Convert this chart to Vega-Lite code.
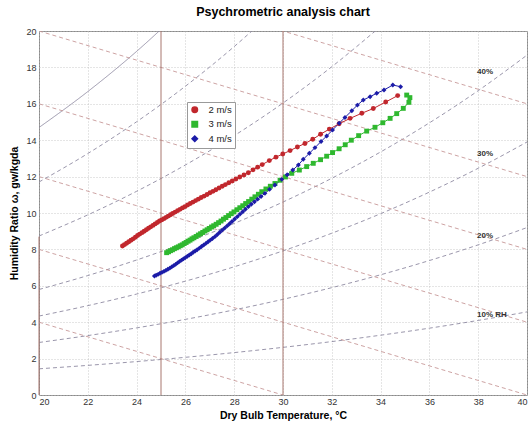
{
  "$schema": "https://vega.github.io/schema/vega-lite/v6.json",
  "width": 488,
  "height": 364,
  "autosize": {"type": "none"},
  "padding": {"left": 39, "top": 31, "right": 4, "bottom": 28},
  "config": {
    "font": "Liberation Sans",
    "view": {"stroke": "#8a8a8a", "strokeWidth": 1},
    "axis": {"labelFont": "Liberation Sans", "titleFont": "Liberation Sans"}
  },
  "title": {"text": "Psychrometric analysis chart", "fontSize": 12.5, "fontWeight": "bold", "color": "#000", "anchor": "middle", "offset": 9},
  "datasets": {
    "rh": [
      {"c": "10", "st": "dash", "t": 20, "w": 1.439}, {"c": "10", "st": "dash", "t": 22, "w": 1.628}, {"c": "10", "st": "dash", "t": 24, "w": 1.837}, {"c": "10", "st": "dash", "t": 26, "w": 2.071}, {"c": "10", "st": "dash", "t": 28, "w": 2.33}, {"c": "10", "st": "dash", "t": 30, "w": 2.618}, {"c": "10", "st": "dash", "t": 32, "w": 2.935}, {"c": "10", "st": "dash", "t": 34, "w": 3.285}, {"c": "10", "st": "dash", "t": 36, "w": 3.672}, {"c": "10", "st": "dash", "t": 38, "w": 4.098}, {"c": "10", "st": "dash", "t": 40, "w": 4.566},
      {"c": "20", "st": "dash", "t": 20, "w": 2.885}, {"c": "20", "st": "dash", "t": 22, "w": 3.264}, {"c": "20", "st": "dash", "t": 24, "w": 3.687}, {"c": "20", "st": "dash", "t": 26, "w": 4.156}, {"c": "20", "st": "dash", "t": 28, "w": 4.678}, {"c": "20", "st": "dash", "t": 30, "w": 5.257}, {"c": "20", "st": "dash", "t": 32, "w": 5.898}, {"c": "20", "st": "dash", "t": 34, "w": 6.606}, {"c": "20", "st": "dash", "t": 36, "w": 7.388}, {"c": "20", "st": "dash", "t": 38, "w": 8.25}, {"c": "20", "st": "dash", "t": 40, "w": 9.2},
      {"c": "30", "st": "dash", "t": 20, "w": 4.338}, {"c": "30", "st": "dash", "t": 22, "w": 4.91}, {"c": "30", "st": "dash", "t": 24, "w": 5.546}, {"c": "30", "st": "dash", "t": 26, "w": 6.256}, {"c": "30", "st": "dash", "t": 28, "w": 7.044}, {"c": "30", "st": "dash", "t": 30, "w": 7.919}, {"c": "30", "st": "dash", "t": 32, "w": 8.889}, {"c": "30", "st": "dash", "t": 34, "w": 9.962}, {"c": "30", "st": "dash", "t": 36, "w": 11.148}, {"c": "30", "st": "dash", "t": 38, "w": 12.458}, {"c": "30", "st": "dash", "t": 40, "w": 13.902},
      {"c": "40", "st": "dash", "t": 20, "w": 5.797}, {"c": "40", "st": "dash", "t": 22, "w": 6.563}, {"c": "40", "st": "dash", "t": 24, "w": 7.417}, {"c": "40", "st": "dash", "t": 26, "w": 8.369}, {"c": "40", "st": "dash", "t": 28, "w": 9.427}, {"c": "40", "st": "dash", "t": 30, "w": 10.604}, {"c": "40", "st": "dash", "t": 32, "w": 11.909}, {"c": "40", "st": "dash", "t": 34, "w": 13.354}, {"c": "40", "st": "dash", "t": 36, "w": 14.954}, {"c": "40", "st": "dash", "t": 38, "w": 16.722}, {"c": "40", "st": "dash", "t": 40, "w": 18.675},
      {"c": "60", "st": "dash", "t": 20, "w": 8.736}, {"c": "60", "st": "dash", "t": 22, "w": 9.897}, {"c": "60", "st": "dash", "t": 24, "w": 11.192}, {"c": "60", "st": "dash", "t": 26, "w": 12.638}, {"c": "60", "st": "dash", "t": 28, "w": 14.249}, {"c": "60", "st": "dash", "t": 30, "w": 16.042}, {"c": "60", "st": "dash", "t": 32, "w": 18.037}, {"c": "60", "st": "dash", "t": 34, "w": 20.248},
      {"c": "80", "st": "dash", "t": 20, "w": 11.703}, {"c": "80", "st": "dash", "t": 22, "w": 13.267}, {"c": "80", "st": "dash", "t": 24, "w": 15.013}, {"c": "80", "st": "dash", "t": 26, "w": 16.966}, {"c": "80", "st": "dash", "t": 28, "w": 19.145}, {"c": "80", "st": "dash", "t": 30, "w": 21.575},
      {"c": "100", "st": "solid", "t": 20, "w": 14.698}, {"c": "100", "st": "solid", "t": 22, "w": 16.672}, {"c": "100", "st": "solid", "t": 24, "w": 18.88}, {"c": "100", "st": "solid", "t": 26, "w": 21.354}
    ],
    "wb": [
      {"id": "a", "t": 20, "w": 24}, {"id": "a", "t": 40, "w": 16},
      {"id": "b", "t": 20, "w": 20}, {"id": "b", "t": 40, "w": 12},
      {"id": "c", "t": 20, "w": 16}, {"id": "c", "t": 40, "w": 8},
      {"id": "d", "t": 20, "w": 12}, {"id": "d", "t": 40, "w": 4},
      {"id": "e", "t": 20, "w": 8}, {"id": "e", "t": 40, "w": 0},
      {"id": "f", "t": 20, "w": 4}, {"id": "f", "t": 30, "w": 0}
    ],
    "vert": [
      {"t": 20, "w0": 0, "w1": 8.7}, {"t": 25, "w0": 0, "w1": 20}, {"t": 30, "w0": 0, "w1": 20}
    ],
    "labels": [
      {"txt": "40%", "t": 37.95, "w": 17.72}, {"txt": "30%", "t": 37.95, "w": 13.22}, {"txt": "20%", "t": 37.95, "w": 8.76}, {"txt": "10% RH", "t": 37.95, "w": 4.38}
    ],
    "series": [
      {"s": "2 m/s", "i": 1, "t": 23.42, "w": 8.19}, {"s": "2 m/s", "i": 2, "t": 23.5, "w": 8.26}, {"s": "2 m/s", "i": 3, "t": 23.59, "w": 8.34}, {"s": "2 m/s", "i": 4, "t": 23.68, "w": 8.42}, {"s": "2 m/s", "i": 5, "t": 23.77, "w": 8.5}, {"s": "2 m/s", "i": 6, "t": 23.86, "w": 8.58}, {"s": "2 m/s", "i": 7, "t": 23.95, "w": 8.67}, {"s": "2 m/s", "i": 8, "t": 24.04, "w": 8.76}, {"s": "2 m/s", "i": 9, "t": 24.13, "w": 8.84}, {"s": "2 m/s", "i": 10, "t": 24.22, "w": 8.92}, {"s": "2 m/s", "i": 11, "t": 24.31, "w": 9.0}, {"s": "2 m/s", "i": 12, "t": 24.4, "w": 9.08}, {"s": "2 m/s", "i": 13, "t": 24.49, "w": 9.16}, {"s": "2 m/s", "i": 14, "t": 24.58, "w": 9.24}, {"s": "2 m/s", "i": 15, "t": 24.67, "w": 9.32}, {"s": "2 m/s", "i": 16, "t": 24.76, "w": 9.4}, {"s": "2 m/s", "i": 17, "t": 24.85, "w": 9.48}, {"s": "2 m/s", "i": 18, "t": 24.94, "w": 9.56}, {"s": "2 m/s", "i": 19, "t": 25.03, "w": 9.62}, {"s": "2 m/s", "i": 20, "t": 25.12, "w": 9.69}, {"s": "2 m/s", "i": 21, "t": 25.21, "w": 9.76}, {"s": "2 m/s", "i": 22, "t": 25.3, "w": 9.83}, {"s": "2 m/s", "i": 23, "t": 25.39, "w": 9.9}, {"s": "2 m/s", "i": 24, "t": 25.48, "w": 9.97}, {"s": "2 m/s", "i": 25, "t": 25.58, "w": 10.05}, {"s": "2 m/s", "i": 26, "t": 25.68, "w": 10.13}, {"s": "2 m/s", "i": 27, "t": 25.78, "w": 10.2}, {"s": "2 m/s", "i": 28, "t": 25.88, "w": 10.28}, {"s": "2 m/s", "i": 29, "t": 25.98, "w": 10.35}, {"s": "2 m/s", "i": 30, "t": 26.09, "w": 10.44}, {"s": "2 m/s", "i": 31, "t": 26.2, "w": 10.52}, {"s": "2 m/s", "i": 32, "t": 26.31, "w": 10.6}, {"s": "2 m/s", "i": 33, "t": 26.42, "w": 10.68}, {"s": "2 m/s", "i": 34, "t": 26.53, "w": 10.76}, {"s": "2 m/s", "i": 35, "t": 26.65, "w": 10.85}, {"s": "2 m/s", "i": 36, "t": 26.77, "w": 10.93}, {"s": "2 m/s", "i": 37, "t": 26.89, "w": 11.02}, {"s": "2 m/s", "i": 38, "t": 27.01, "w": 11.11}, {"s": "2 m/s", "i": 39, "t": 27.13, "w": 11.19}, {"s": "2 m/s", "i": 40, "t": 27.25, "w": 11.28}, {"s": "2 m/s", "i": 41, "t": 27.38, "w": 11.37}, {"s": "2 m/s", "i": 42, "t": 27.51, "w": 11.47}, {"s": "2 m/s", "i": 43, "t": 27.64, "w": 11.56}, {"s": "2 m/s", "i": 44, "t": 27.78, "w": 11.66}, {"s": "2 m/s", "i": 45, "t": 27.92, "w": 11.76}, {"s": "2 m/s", "i": 46, "t": 28.07, "w": 11.87}, {"s": "2 m/s", "i": 47, "t": 28.23, "w": 11.98}, {"s": "2 m/s", "i": 48, "t": 28.4, "w": 12.09}, {"s": "2 m/s", "i": 49, "t": 28.58, "w": 12.21}, {"s": "2 m/s", "i": 50, "t": 28.77, "w": 12.37}, {"s": "2 m/s", "i": 51, "t": 28.96, "w": 12.52}, {"s": "2 m/s", "i": 52, "t": 29.15, "w": 12.66}, {"s": "2 m/s", "i": 53, "t": 29.44, "w": 12.88}, {"s": "2 m/s", "i": 54, "t": 29.71, "w": 13.07}, {"s": "2 m/s", "i": 55, "t": 29.99, "w": 13.24}, {"s": "2 m/s", "i": 56, "t": 30.29, "w": 13.43}, {"s": "2 m/s", "i": 57, "t": 30.59, "w": 13.63}, {"s": "2 m/s", "i": 58, "t": 30.9, "w": 13.82}, {"s": "2 m/s", "i": 59, "t": 31.22, "w": 14.05}, {"s": "2 m/s", "i": 60, "t": 31.54, "w": 14.33}, {"s": "2 m/s", "i": 61, "t": 31.9, "w": 14.61}, {"s": "2 m/s", "i": 62, "t": 32.3, "w": 14.9}, {"s": "2 m/s", "i": 63, "t": 32.75, "w": 15.2}, {"s": "2 m/s", "i": 64, "t": 33.23, "w": 15.48}, {"s": "2 m/s", "i": 65, "t": 33.7, "w": 15.74}, {"s": "2 m/s", "i": 66, "t": 34.21, "w": 16.1}, {"s": "2 m/s", "i": 67, "t": 34.7, "w": 16.45},
      {"s": "3 m/s", "i": 1, "t": 25.23, "w": 7.82}, {"s": "3 m/s", "i": 2, "t": 25.31, "w": 7.87}, {"s": "3 m/s", "i": 3, "t": 25.39, "w": 7.93}, {"s": "3 m/s", "i": 4, "t": 25.47, "w": 7.98}, {"s": "3 m/s", "i": 5, "t": 25.55, "w": 8.04}, {"s": "3 m/s", "i": 6, "t": 25.63, "w": 8.09}, {"s": "3 m/s", "i": 7, "t": 25.71, "w": 8.14}, {"s": "3 m/s", "i": 8, "t": 25.79, "w": 8.2}, {"s": "3 m/s", "i": 9, "t": 25.87, "w": 8.25}, {"s": "3 m/s", "i": 10, "t": 25.95, "w": 8.32}, {"s": "3 m/s", "i": 11, "t": 26.03, "w": 8.38}, {"s": "3 m/s", "i": 12, "t": 26.11, "w": 8.45}, {"s": "3 m/s", "i": 13, "t": 26.19, "w": 8.51}, {"s": "3 m/s", "i": 14, "t": 26.27, "w": 8.58}, {"s": "3 m/s", "i": 15, "t": 26.35, "w": 8.64}, {"s": "3 m/s", "i": 16, "t": 26.44, "w": 8.71}, {"s": "3 m/s", "i": 17, "t": 26.53, "w": 8.79}, {"s": "3 m/s", "i": 18, "t": 26.62, "w": 8.86}, {"s": "3 m/s", "i": 19, "t": 26.71, "w": 8.93}, {"s": "3 m/s", "i": 20, "t": 26.8, "w": 9.01}, {"s": "3 m/s", "i": 21, "t": 26.89, "w": 9.08}, {"s": "3 m/s", "i": 22, "t": 26.98, "w": 9.15}, {"s": "3 m/s", "i": 23, "t": 27.07, "w": 9.23}, {"s": "3 m/s", "i": 24, "t": 27.16, "w": 9.3}, {"s": "3 m/s", "i": 25, "t": 27.26, "w": 9.38}, {"s": "3 m/s", "i": 26, "t": 27.36, "w": 9.47}, {"s": "3 m/s", "i": 27, "t": 27.46, "w": 9.56}, {"s": "3 m/s", "i": 28, "t": 27.56, "w": 9.66}, {"s": "3 m/s", "i": 29, "t": 27.66, "w": 9.75}, {"s": "3 m/s", "i": 30, "t": 27.77, "w": 9.86}, {"s": "3 m/s", "i": 31, "t": 27.88, "w": 9.96}, {"s": "3 m/s", "i": 32, "t": 27.99, "w": 10.06}, {"s": "3 m/s", "i": 33, "t": 28.11, "w": 10.18}, {"s": "3 m/s", "i": 34, "t": 28.23, "w": 10.29}, {"s": "3 m/s", "i": 35, "t": 28.35, "w": 10.4}, {"s": "3 m/s", "i": 36, "t": 28.47, "w": 10.52}, {"s": "3 m/s", "i": 37, "t": 28.59, "w": 10.63}, {"s": "3 m/s", "i": 38, "t": 28.72, "w": 10.76}, {"s": "3 m/s", "i": 39, "t": 28.85, "w": 10.89}, {"s": "3 m/s", "i": 40, "t": 28.99, "w": 11.03}, {"s": "3 m/s", "i": 41, "t": 29.13, "w": 11.17}, {"s": "3 m/s", "i": 42, "t": 29.3, "w": 11.32}, {"s": "3 m/s", "i": 43, "t": 29.48, "w": 11.47}, {"s": "3 m/s", "i": 44, "t": 29.67, "w": 11.62}, {"s": "3 m/s", "i": 45, "t": 29.88, "w": 11.8}, {"s": "3 m/s", "i": 46, "t": 30.1, "w": 11.98}, {"s": "3 m/s", "i": 47, "t": 30.36, "w": 12.18}, {"s": "3 m/s", "i": 48, "t": 30.67, "w": 12.36}, {"s": "3 m/s", "i": 49, "t": 30.97, "w": 12.55}, {"s": "3 m/s", "i": 50, "t": 31.24, "w": 12.73}, {"s": "3 m/s", "i": 51, "t": 31.54, "w": 12.93}, {"s": "3 m/s", "i": 52, "t": 31.79, "w": 13.12}, {"s": "3 m/s", "i": 53, "t": 32.03, "w": 13.32}, {"s": "3 m/s", "i": 54, "t": 32.3, "w": 13.53}, {"s": "3 m/s", "i": 55, "t": 32.55, "w": 13.75}, {"s": "3 m/s", "i": 56, "t": 32.8, "w": 14.0}, {"s": "3 m/s", "i": 57, "t": 33.1, "w": 14.25}, {"s": "3 m/s", "i": 58, "t": 33.43, "w": 14.5}, {"s": "3 m/s", "i": 59, "t": 33.77, "w": 14.71}, {"s": "3 m/s", "i": 60, "t": 34.09, "w": 14.96}, {"s": "3 m/s", "i": 61, "t": 34.39, "w": 15.2}, {"s": "3 m/s", "i": 62, "t": 34.66, "w": 15.46}, {"s": "3 m/s", "i": 63, "t": 34.93, "w": 15.75}, {"s": "3 m/s", "i": 64, "t": 35.16, "w": 16.08}, {"s": "3 m/s", "i": 65, "t": 35.2, "w": 16.34}, {"s": "3 m/s", "i": 66, "t": 35.07, "w": 16.48},
      {"s": "4 m/s", "i": 1, "t": 24.73, "w": 6.54}, {"s": "4 m/s", "i": 2, "t": 24.8, "w": 6.58}, {"s": "4 m/s", "i": 3, "t": 24.88, "w": 6.63}, {"s": "4 m/s", "i": 4, "t": 24.96, "w": 6.69}, {"s": "4 m/s", "i": 5, "t": 25.04, "w": 6.74}, {"s": "4 m/s", "i": 6, "t": 25.12, "w": 6.79}, {"s": "4 m/s", "i": 7, "t": 25.2, "w": 6.85}, {"s": "4 m/s", "i": 8, "t": 25.28, "w": 6.91}, {"s": "4 m/s", "i": 9, "t": 25.36, "w": 6.97}, {"s": "4 m/s", "i": 10, "t": 25.44, "w": 7.04}, {"s": "4 m/s", "i": 11, "t": 25.52, "w": 7.11}, {"s": "4 m/s", "i": 12, "t": 25.6, "w": 7.18}, {"s": "4 m/s", "i": 13, "t": 25.68, "w": 7.26}, {"s": "4 m/s", "i": 14, "t": 25.76, "w": 7.34}, {"s": "4 m/s", "i": 15, "t": 25.84, "w": 7.41}, {"s": "4 m/s", "i": 16, "t": 25.92, "w": 7.48}, {"s": "4 m/s", "i": 17, "t": 26.0, "w": 7.55}, {"s": "4 m/s", "i": 18, "t": 26.08, "w": 7.62}, {"s": "4 m/s", "i": 19, "t": 26.16, "w": 7.69}, {"s": "4 m/s", "i": 20, "t": 26.24, "w": 7.76}, {"s": "4 m/s", "i": 21, "t": 26.32, "w": 7.84}, {"s": "4 m/s", "i": 22, "t": 26.4, "w": 7.91}, {"s": "4 m/s", "i": 23, "t": 26.48, "w": 7.98}, {"s": "4 m/s", "i": 24, "t": 26.57, "w": 8.07}, {"s": "4 m/s", "i": 25, "t": 26.66, "w": 8.16}, {"s": "4 m/s", "i": 26, "t": 26.75, "w": 8.24}, {"s": "4 m/s", "i": 27, "t": 26.84, "w": 8.33}, {"s": "4 m/s", "i": 28, "t": 26.93, "w": 8.42}, {"s": "4 m/s", "i": 29, "t": 27.02, "w": 8.51}, {"s": "4 m/s", "i": 30, "t": 27.11, "w": 8.6}, {"s": "4 m/s", "i": 31, "t": 27.21, "w": 8.7}, {"s": "4 m/s", "i": 32, "t": 27.31, "w": 8.82}, {"s": "4 m/s", "i": 33, "t": 27.41, "w": 8.94}, {"s": "4 m/s", "i": 34, "t": 27.51, "w": 9.06}, {"s": "4 m/s", "i": 35, "t": 27.61, "w": 9.17}, {"s": "4 m/s", "i": 36, "t": 27.71, "w": 9.29}, {"s": "4 m/s", "i": 37, "t": 27.81, "w": 9.41}, {"s": "4 m/s", "i": 38, "t": 27.91, "w": 9.53}, {"s": "4 m/s", "i": 39, "t": 28.02, "w": 9.67}, {"s": "4 m/s", "i": 40, "t": 28.13, "w": 9.8}, {"s": "4 m/s", "i": 41, "t": 28.24, "w": 9.94}, {"s": "4 m/s", "i": 42, "t": 28.35, "w": 10.07}, {"s": "4 m/s", "i": 43, "t": 28.46, "w": 10.21}, {"s": "4 m/s", "i": 44, "t": 28.58, "w": 10.35}, {"s": "4 m/s", "i": 45, "t": 28.7, "w": 10.48}, {"s": "4 m/s", "i": 46, "t": 28.83, "w": 10.62}, {"s": "4 m/s", "i": 47, "t": 28.96, "w": 10.76}, {"s": "4 m/s", "i": 48, "t": 29.1, "w": 10.91}, {"s": "4 m/s", "i": 49, "t": 29.26, "w": 11.08}, {"s": "4 m/s", "i": 50, "t": 29.45, "w": 11.3}, {"s": "4 m/s", "i": 51, "t": 29.67, "w": 11.54}, {"s": "4 m/s", "i": 52, "t": 29.95, "w": 11.85}, {"s": "4 m/s", "i": 53, "t": 30.17, "w": 12.1}, {"s": "4 m/s", "i": 54, "t": 30.4, "w": 12.36}, {"s": "4 m/s", "i": 55, "t": 30.63, "w": 12.64}, {"s": "4 m/s", "i": 56, "t": 30.83, "w": 12.95}, {"s": "4 m/s", "i": 57, "t": 31.08, "w": 13.28}, {"s": "4 m/s", "i": 58, "t": 31.31, "w": 13.59}, {"s": "4 m/s", "i": 59, "t": 31.56, "w": 13.93}, {"s": "4 m/s", "i": 60, "t": 31.79, "w": 14.23}, {"s": "4 m/s", "i": 61, "t": 32.03, "w": 14.56}, {"s": "4 m/s", "i": 62, "t": 32.3, "w": 14.93}, {"s": "4 m/s", "i": 63, "t": 32.54, "w": 15.25}, {"s": "4 m/s", "i": 64, "t": 32.82, "w": 15.62}, {"s": "4 m/s", "i": 65, "t": 33.05, "w": 15.93}, {"s": "4 m/s", "i": 66, "t": 33.29, "w": 16.21}, {"s": "4 m/s", "i": 67, "t": 33.57, "w": 16.39}, {"s": "4 m/s", "i": 68, "t": 33.84, "w": 16.58}, {"s": "4 m/s", "i": 69, "t": 34.14, "w": 16.76}, {"s": "4 m/s", "i": 70, "t": 34.5, "w": 17.03}, {"s": "4 m/s", "i": 71, "t": 34.82, "w": 16.94}
    ]
  },
  "layer": [
    {
      "data": {"name": "rh"},
      "mark": {"type": "line", "clip": true, "strokeWidth": 0.9, "color": "#8e8aa2", "interpolate": "monotone"},
      "encoding": {
        "x": {"field": "t", "type": "quantitative", "scale": {"domain": [20, 40], "nice": false, "zero": false},
          "axis": {"values": [20, 22, 24, 26, 28, 30, 32, 34, 36, 38, 40], "format": "d", "tickCount": 30, "grid": true, "gridDash": [1, 2], "gridColor": "#bdbdbd", "gridWidth": 0.8, "domain": false, "ticks": false, "labelOverlap": false, "labelPadding": 2, "labelFontSize": 9, "labelColor": "#333", "title": "Dry Bulb Temperature, °C", "titleFontSize": 10.5, "titleFontWeight": "bold", "titleColor": "#000", "titlePadding": 4}},
        "y": {"field": "w", "type": "quantitative", "scale": {"domain": [0, 20], "nice": false, "zero": false},
          "axis": {"values": [0, 2, 4, 6, 8, 10, 12, 14, 16, 18, 20], "format": "d", "tickCount": 30, "grid": true, "gridDash": [1, 2], "gridColor": "#bdbdbd", "gridWidth": 0.8, "domain": false, "ticks": false, "labelOverlap": false, "labelPadding": 3, "labelFontSize": 9, "labelColor": "#333", "title": "Humidity Ratio ω, gw/kgda", "titleFontSize": 10.5, "titleFontWeight": "bold", "titleColor": "#000", "titlePadding": 6}},
        "detail": {"field": "c"},
        "strokeDash": {"field": "st", "type": "nominal", "scale": {"domain": ["dash", "solid"], "range": [[4, 3], [1, 0]]}, "legend": null}
      }
    },
    {
      "data": {"name": "wb"},
      "mark": {"type": "line", "clip": true, "strokeWidth": 0.9, "color": "#c79898", "strokeDash": [4, 3]},
      "encoding": {
        "x": {"field": "t", "type": "quantitative"},
        "y": {"field": "w", "type": "quantitative"},
        "detail": {"field": "id"}
      }
    },
    {
      "data": {"name": "vert"},
      "mark": {"type": "rule", "color": "#a8766f", "strokeWidth": 1},
      "encoding": {
        "x": {"field": "t", "type": "quantitative"},
        "y": {"field": "w0", "type": "quantitative"},
        "y2": {"field": "w1"}
      }
    },
    {
      "data": {"name": "series"},
      "mark": {"type": "line", "strokeWidth": 1},
      "encoding": {
        "x": {"field": "t", "type": "quantitative"},
        "y": {"field": "w", "type": "quantitative"},
        "order": {"field": "i", "type": "quantitative"},
        "color": {"field": "s", "type": "nominal", "title": null, "scale": {"domain": ["2 m/s", "3 m/s", "4 m/s"], "range": ["#c1272d", "#2fb82f", "#1c1ca8"]},
          "legend": {"orient": "none", "legendX": 148, "legendY": 71, "title": null, "strokeColor": "#9a9a9a", "fillColor": "#ffffff", "padding": 3, "symbolSize": 30, "labelFontSize": 9.5, "labelColor": "#222", "labelOffset": 9, "rowPadding": 2.5}}
      }
    },
    {
      "data": {"name": "series"},
      "mark": {"type": "point", "filled": true, "size": 24, "opacity": 1},
      "encoding": {
        "x": {"field": "t", "type": "quantitative"},
        "y": {"field": "w", "type": "quantitative"},
        "shape": {"field": "s", "type": "nominal", "scale": {"domain": ["2 m/s", "3 m/s", "4 m/s"], "range": ["circle", "square", "diamond"]}, "legend": null},
        "color": {"field": "s", "type": "nominal", "title": null, "scale": {"domain": ["2 m/s", "3 m/s", "4 m/s"], "range": ["#c1272d", "#2fb82f", "#1c1ca8"]},
          "legend": {"orient": "none", "legendX": 148, "legendY": 71, "title": null, "strokeColor": "#9a9a9a", "fillColor": "#ffffff", "padding": 3, "symbolSize": 30, "labelFontSize": 9.5, "labelColor": "#222", "labelOffset": 9, "rowPadding": 2.5}}
      }
    },
    {
      "data": {"name": "labels"},
      "mark": {"type": "text", "align": "left", "baseline": "middle", "fontSize": 8, "fontWeight": "bold", "color": "#333"},
      "encoding": {
        "x": {"field": "t", "type": "quantitative"},
        "y": {"field": "w", "type": "quantitative"},
        "text": {"field": "txt"}
      }
    }
  ]
}
